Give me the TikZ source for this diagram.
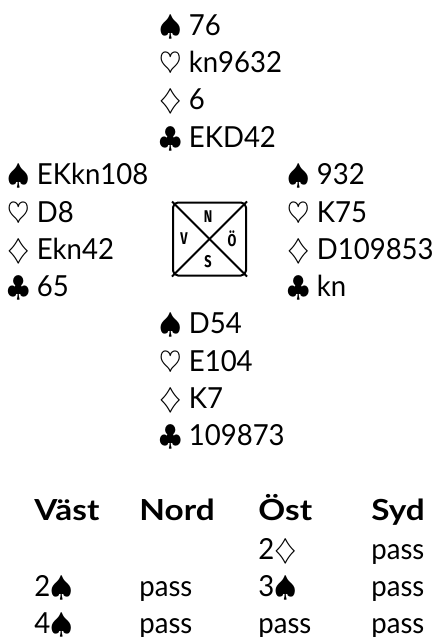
\documentclass[tikz,border=0pt]{standalone}
\usepackage{fontspec}
\setmainfont{Lato}[FakeStretch=0.95]
\newfontfamily\headfont{Lato}[FakeStretch=1.15]
\newfontfamily\windfont{Fira Sans}[FakeStretch=0.75]

\tikzset{
	hand/.style={anchor=base west, inner sep=0pt, font=\fontsize{14.5}{17}\selectfont},
	bid/.style={anchor=base west, inner sep=0pt, font=\fontsize{14.5}{17}\selectfont},
	bidhead/.style={bid, font=\headfont\fontsize{14.5}{17}\selectfont\bfseries},
	compass/.style={draw, line width=1pt, rounded corners=2.5pt, minimum size=36.5pt, inner sep=0pt},
	wind/.style={inner sep=0pt, font=\windfont\bfseries\fontsize{8.5}{8.5}\selectfont}
}

\begin{document}
\begin{tikzpicture}[x=0.5pt,y=-0.5pt]
	\useasboundingbox (0,0) rectangle (433,637);
	% nord
	\node[hand] (n1) at (159,35) {$\spadesuit$ 76};
	\node[hand] (n2) at (159,72) {$\heartsuit$ kn9632};
	\node[hand] (n3) at (159,109) {$\diamondsuit$ 6};
	\node[hand] (n4) at (159,147) {$\clubsuit$ EKD42};
	% vast
	\node[hand] (v1) at (7,184) {$\spadesuit$ EKkn108};
	\node[hand] (v2) at (7,222) {$\heartsuit$ D8};
	\node[hand] (v3) at (7,259) {$\diamondsuit$ Ekn42};
	\node[hand] (v4) at (7,296) {$\clubsuit$ 65};
	% ost
	\node[hand] (o1) at (287,184) {$\spadesuit$ 932};
	\node[hand] (o2) at (287,222) {$\heartsuit$ K75};
	\node[hand] (o3) at (287,259) {$\diamondsuit$ D109853};
	\node[hand] (o4) at (287,296) {$\clubsuit$ kn};
	% syd
	\node[hand] (s1) at (159,333) {$\spadesuit$ D54};
	\node[hand] (s2) at (159,371) {$\heartsuit$ E104};
	\node[hand] (s3) at (159,408) {$\diamondsuit$ K7};
	\node[hand] (s4) at (159,445) {$\clubsuit$ 109873};
	% bordet
	\node[compass] (bord) at (209.5,239) {};
	\draw[line width=1pt] (bord.north west) -- (bord.south east);
	\draw[line width=1pt] (bord.north east) -- (bord.south west);
	\node[wind] (wn) at (208,217) {N};
	\node[wind] (wv) at (184,239) {V};
	\node[wind] (wo) at (232,239) {Ö};
	\node[wind] (ws) at (208,262) {S};
	% budgivning
	\node[bidhead] (h1) at (34,520) {Väst};
	\node[bidhead] (h2) at (139,520) {Nord};
	\node[bidhead] (h3) at (258,520) {Öst};
	\node[bidhead] (h4) at (371,520) {Syd};
	\node[bid] (b13) at (258,559) {2$\diamondsuit$};
	\node[bid] (b14) at (371,559) {pass};
	\node[bid] (b21) at (34,596) {2$\spadesuit$};
	\node[bid] (b22) at (139,596) {pass};
	\node[bid] (b23) at (258,596) {3$\spadesuit$};
	\node[bid] (b24) at (371,596) {pass};
	\node[bid] (b31) at (34,633) {4$\spadesuit$};
	\node[bid] (b32) at (139,633) {pass};
	\node[bid] (b33) at (258,633) {pass};
	\node[bid] (b34) at (371,633) {pass};
\end{tikzpicture}
\end{document}
